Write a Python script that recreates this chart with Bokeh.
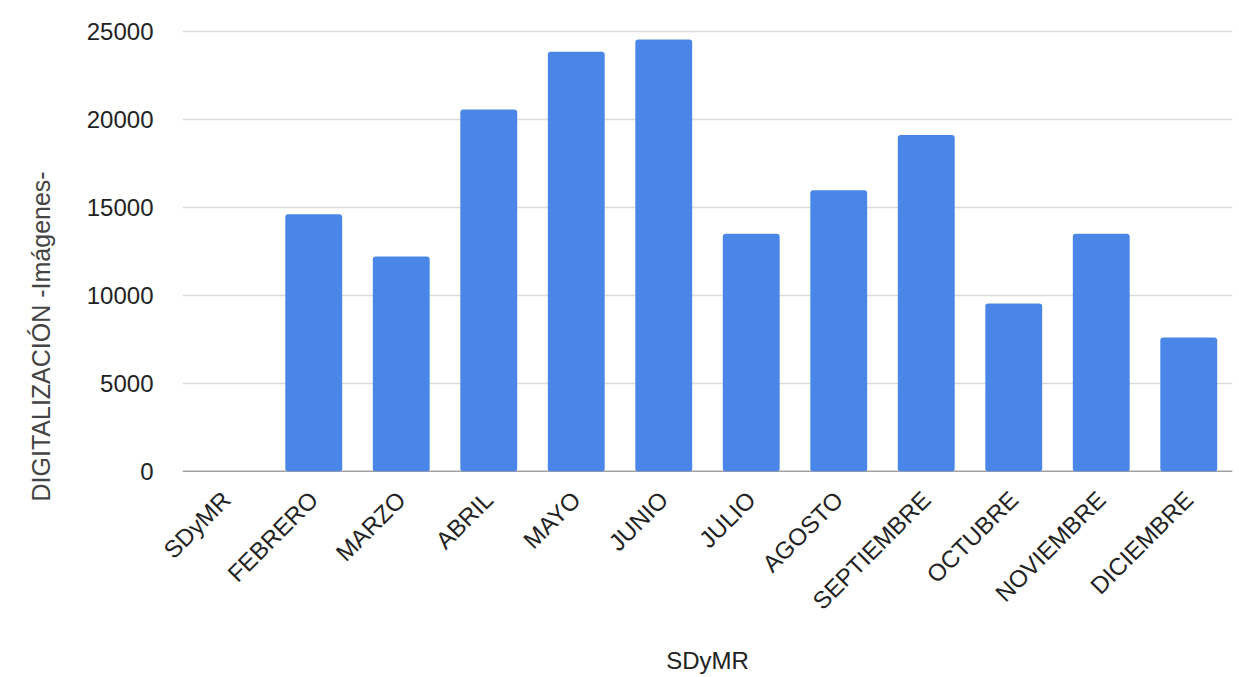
import math
from bokeh.plotting import figure
from bokeh.models import Range1d, Span, Title, ColumnDataSource
from bokeh.embed import file_html
from bokeh.resources import INLINE

categories = ["SDyMR", "FEBRERO", "MARZO", "ABRIL", "MAYO", "JUNIO", "JULIO",
              "AGOSTO", "SEPTIEMBRE", "OCTUBRE", "NOVIEMBRE", "DICIEMBRE"]
values = [0, 14600, 12200, 20550, 23830, 24530, 13500, 15970, 19100, 9540, 13500, 7610]
y_ticks = [0, 5000, 10000, 15000, 20000, 25000]

FONT = "Liberation Sans"

src = ColumnDataSource(dict(cat=categories, val=values))

p = figure(x_range=categories, y_range=Range1d(0, 25150),
           width=1239, height=677, output_backend="svg", toolbar_location=None,
           min_border_left=182, min_border_right=7, min_border_top=28, min_border_bottom=206)
p.x_range.range_padding = 0
p.outline_line_color = None
p.background_fill_color = "white"
p.border_fill_color = "white"

p.ygrid.grid_line_color = "#d9d9d9"
p.ygrid.grid_line_width = 1.5
p.xgrid.grid_line_color = None
p.yaxis.ticker = y_ticks

base = Span(location=0, dimension="width", line_color="#444444", line_width=1.5, level="underlay")
p.add_layout(base)

p.vbar(x="cat", top="val", width=0.65, source=src, fill_color="#4a86e8", line_color=None,
       border_radius=3)

# y axis
p.yaxis.axis_line_color = None
p.yaxis.major_tick_line_color = None
p.yaxis.minor_tick_line_color = None
p.yaxis.major_label_text_font = FONT
p.yaxis.major_label_text_font_size = "24px"
p.yaxis.major_label_text_color = "#222222"
p.yaxis.major_label_standoff = 23

# x axis
p.xaxis.axis_line_color = None
p.xaxis.major_tick_line_color = None
p.xaxis.minor_tick_line_color = None
p.xaxis.major_label_orientation = math.pi / 4
p.xaxis.major_label_text_font = FONT
p.xaxis.major_label_text_font_size = "24px"
p.xaxis.major_label_text_color = "#222222"
p.xaxis.major_label_standoff = 18
p.xaxis.axis_label = "SDyMR"
p.xaxis.axis_label_text_font = FONT
p.xaxis.axis_label_text_font_size = "24px"
p.xaxis.axis_label_text_font_style = "normal"
p.xaxis.axis_label_text_color = "#222222"
p.xaxis.axis_label_standoff = 20

ytitle = Title(text="DIGITALIZACIÓN -Imágenes-", align="left", offset=-30, standoff=53,
               vertical_align="top",
               text_font=FONT, text_font_size="25px", text_font_style="normal",
               text_color="#444444")
p.add_layout(ytitle, "left")

open("out.html", "w").write(file_html(p, INLINE))
